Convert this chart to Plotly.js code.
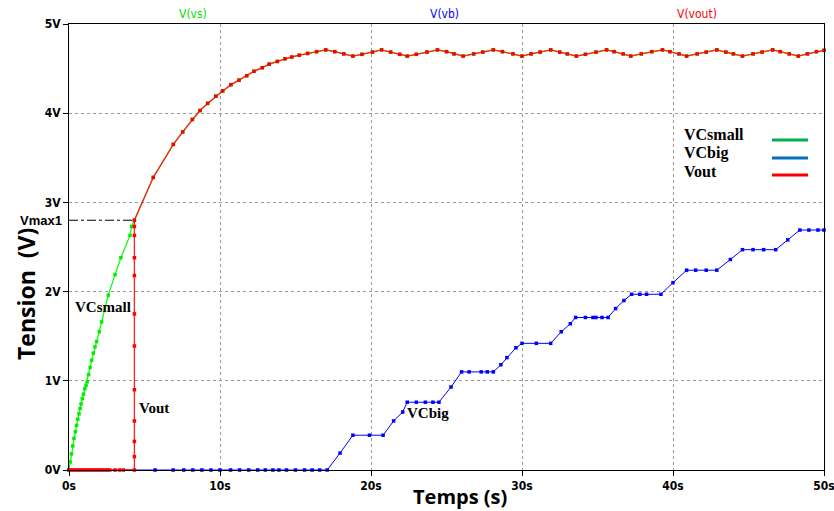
<!DOCTYPE html>
<html><head><meta charset="utf-8">
<script src="https://cdn.plot.ly/plotly-3.0.1.min.js"></script>
<style>body{margin:0;background:#fff}#chart{width:834px;height:511px}</style>
</head><body><div id="chart"></div><script>
// ---- data ----
// V(vs) : VCsmall charging before the switch
const vsT = [0, 0.08, 0.16, 0.25, 0.33, 0.42, 0.5, 0.58, 0.66, 0.73, 0.8, 0.88, 0.96, 1.05, 1.13, 1.21, 1.3, 1.4, 1.5, 1.61, 1.72, 1.83, 2.0, 2.16, 2.6, 3.05, 3.44, 4.04, 4.15, 4.33];
const vsV = [0, 0.09, 0.18, 0.27, 0.355, 0.43, 0.5, 0.57, 0.63, 0.69, 0.74, 0.8, 0.85, 0.91, 0.95, 0.99, 1.07, 1.15, 1.23, 1.31, 1.38, 1.44, 1.55, 1.66, 1.96, 2.19, 2.38, 2.63, 2.73, 2.80];
// V(vout) : zero, jump at switch, charging curve, ripple
const outZeroT = [0, 0.15, 0.3, 0.45, 0.6, 0.75, 0.9, 1.05, 1.2, 1.35, 1.5, 1.65, 1.8, 1.95, 2.1, 2.25, 2.4, 2.55, 2.7, 3.05, 3.35, 3.6, 4.33];
const outZeroV = [0, 0, 0, 0, 0, 0, 0, 0, 0, 0, 0, 0, 0, 0, 0, 0, 0, 0, 0, 0, 0, 0, 0];
const outJumpT = [4.33, 4.33, 4.33, 4.33, 4.33, 4.33, 4.33, 4.33, 4.33, 4.33, 4.33];
const outJumpV = [0.15, 0.32, 0.55, 0.9, 1.39, 1.75, 2.18, 2.38, 2.63, 2.73, 2.80];
const curveT = [5.58, 6.91, 7.53, 8.17, 8.68, 9.18, 9.72, 10.18, 10.73, 11.26, 11.77, 12.25, 12.8, 13.26, 13.8, 14.3, 14.75, 15.25, 15.8, 16.4];
const curveV = [3.28, 3.65, 3.79, 3.93, 4.03, 4.11, 4.19, 4.25, 4.32, 4.37, 4.42, 4.47, 4.51, 4.55, 4.58, 4.61, 4.63, 4.65, 4.67, 4.69];
const rippleT = [17.0, 17.6, 18.2, 18.8, 19.4, 20.1, 20.7, 21.3, 21.9, 22.4, 23.0, 23.7, 24.4, 25.0, 25.5, 26.1, 26.8, 27.4, 28.1, 28.7, 29.4, 30.0, 30.6, 31.2, 31.9, 32.5, 33.0, 33.6, 34.2, 34.9, 35.6, 36.1, 36.7, 37.2, 37.9, 38.6, 39.3, 39.8, 40.4, 40.9, 41.6, 42.2, 42.9, 43.5, 44.0, 44.6, 45.3, 45.9, 46.6, 47.1, 47.7, 48.3, 48.9, 49.5, 50.0];
const rippleV = [4.71, 4.69, 4.665, 4.64, 4.66, 4.685, 4.71, 4.685, 4.66, 4.64, 4.66, 4.685, 4.71, 4.69, 4.665, 4.64, 4.665, 4.685, 4.71, 4.69, 4.665, 4.64, 4.665, 4.685, 4.71, 4.685, 4.665, 4.64, 4.66, 4.685, 4.71, 4.69, 4.665, 4.64, 4.665, 4.69, 4.71, 4.69, 4.665, 4.64, 4.665, 4.685, 4.71, 4.685, 4.665, 4.64, 4.665, 4.685, 4.71, 4.69, 4.665, 4.64, 4.665, 4.69, 4.705];
// V(vb) : VCbig staircase
const vbT = [0, 5.7, 6.9, 7.6, 8.2, 8.8, 9.4, 10.0, 10.7, 11.3, 11.9, 12.5, 13.0, 13.5, 13.9, 14.4, 15.0, 15.6, 16.1, 16.6, 17.1, 17.95, 18.8, 19.9, 20.8, 21.5, 22.1, 22.4, 23.0, 23.6, 24.1, 24.5, 25.3, 26.0, 26.5, 27.3, 27.7, 28.1, 28.6, 29.0, 29.6, 30.0, 30.95, 31.9, 32.6, 33.2, 33.55, 34.2, 34.7, 34.9, 35.3, 35.7, 36.2, 36.75, 37.26, 37.8, 38.25, 39.2, 40.0, 40.9, 41.5, 42.2, 42.9, 43.8, 44.6, 45.3, 46.0, 46.8, 47.6, 48.4, 49.0, 49.6, 50.0];
const vbV = [0, 0, 0, 0, 0, 0, 0, 0, 0, 0, 0, 0, 0, 0, 0, 0, 0, 0, 0, 0, 0, 0.19, 0.39, 0.39, 0.39, 0.55, 0.65, 0.76, 0.76, 0.76, 0.76, 0.76, 0.93, 1.10, 1.10, 1.10, 1.10, 1.10, 1.18, 1.26, 1.37, 1.42, 1.42, 1.42, 1.55, 1.64, 1.71, 1.71, 1.71, 1.71, 1.71, 1.71, 1.81, 1.90, 1.97, 1.97, 1.97, 1.97, 2.10, 2.24, 2.24, 2.24, 2.24, 2.36, 2.47, 2.47, 2.47, 2.47, 2.58, 2.69, 2.69, 2.69, 2.69];
const vmax1 = 2.80;
const tSwitch = 4.33;
const xTicks = [0, 10, 20, 30, 40, 50];
const yTicks = [0, 1, 2, 3, 4, 5];

// ---- build traces ----
const outT = outZeroT.concat(outJumpT, curveT, rippleT);
const outV = outZeroV.concat(outJumpV, curveV, rippleV);
const greenT = vsT.concat(curveT, rippleT);
const greenV = vsV.concat(curveV, rippleV);

const mk = (c) => ({symbol: 'square', size: 3.5, color: c});
const traces = [
  {x: vbT, y: vbV, mode: 'lines+markers', line: {color: '#0000ff', width: 1}, marker: mk('#0000ff'), cliponaxis: false, hoverinfo: 'skip'},
  {x: greenT, y: greenV, mode: 'lines+markers', line: {color: '#00ff00', width: 1.2}, marker: mk('#00ee00'), cliponaxis: false, hoverinfo: 'skip'},
  {x: outT, y: outV, mode: 'lines+markers', line: {color: '#ff2020', width: 1.3}, marker: mk('#ff0000'), cliponaxis: false, hoverinfo: 'skip'}
];

const L = 69, T = 24, W = 755, H = 446;
const px = (p) => (p - L) / W;
const py = (p) => (T + H - p) / H;
const tickFont = {family: 'DejaVu Sans Condensed, Liberation Sans Narrow, sans-serif', size: 12, color: '#000', weight: 'bold'};
const topFont = (c) => ({family: 'DejaVu Sans Condensed, Liberation Sans Narrow, sans-serif', size: 12, color: c});
const serif = (s) => ({family: 'Liberation Serif, Times New Roman, serif', size: s, color: '#000', weight: 'bold'});
const A = (o) => Object.assign({xref: 'paper', yref: 'paper', showarrow: false, xanchor: 'center', yanchor: 'middle'}, o);

const ann = [
  A({text: 'Tension&nbsp;&nbsp;(V)', x: px(26), y: py(294), textangle: -90, font: {family: 'Open Sans, sans-serif', size: 23, weight: 'bold', color: '#000'}}),
  A({text: 'Temps (s)', x: px(460), y: py(496), font: {family: 'Open Sans, sans-serif', size: 20, weight: 'bold', color: '#000'}}),
  A({text: 'V(vs)', x: px(193), y: py(14), font: topFont('#00e000')}),
  A({text: 'V(vb)', x: px(444), y: py(14), font: topFont('#0000ff')}),
  A({text: 'V(vout)', x: px(697), y: py(14), font: topFont('#ff0000')}),
  A({text: 'Vmax1', yref: 'y', x: px(64), y: vmax1, xanchor: 'right', font: {family: 'Liberation Sans, Arial, sans-serif', size: 13, weight: 'bold', color: '#000'}}),
  A({text: 'VCsmall', x: px(73), y: py(307), xanchor: 'left', font: serif(15)}),
  A({text: 'Vout', x: px(137), y: py(408), xanchor: 'left', font: serif(15)}),
  A({text: 'VCbig', x: px(405), y: py(413), xanchor: 'left', font: serif(15)}),
  A({text: 'VCsmall', x: px(682), y: py(134), xanchor: 'left', font: serif(16)}),
  A({text: 'VCbig', x: px(682), y: py(153), xanchor: 'left', font: serif(16)}),
  A({text: 'Vout', x: px(682), y: py(172), xanchor: 'left', font: serif(16)})
];
const legLine = (p, c) => ({type: 'line', xref: 'paper', yref: 'paper', x0: px(772), x1: px(808), y0: py(p), y1: py(p), line: {color: c, width: 3}});
const shapes = [
  {type: 'line', xref: 'x', yref: 'y', x0: 0, x1: tSwitch, y0: vmax1, y1: vmax1, line: {color: '#000', width: 1, dash: 'dashdot'}},
  legLine(140, '#00b050'), legLine(158, '#0070c0'), legLine(175, '#ff0000')
];

const axisCommon = {showgrid: true, gridcolor: '#9a9a9a', griddash: '3px,3px', gridwidth: 1,
  zeroline: false, showline: true, linecolor: '#000', linewidth: 1, mirror: true, ticks: 'outside', ticklen: 5,
  tickcolor: '#000', tickfont: tickFont, fixedrange: true, ticklabeloverflow: 'allow'};
const layout = {
  width: 834, height: 511,
  margin: {l: L, r: 834 - L - W, t: T, b: 511 - T - H, pad: 0},
  paper_bgcolor: '#fff', plot_bgcolor: '#fff',
  showlegend: false,
  xaxis: Object.assign({range: [0, 50], tickvals: xTicks, ticktext: xTicks.map(v => v + 's')}, axisCommon),
  yaxis: Object.assign({range: [0, 5], tickvals: yTicks, ticktext: yTicks.map(v => v + 'V')}, axisCommon),
  annotations: ann,
  shapes: shapes
};
Plotly.newPlot('chart', traces, layout, {staticPlot: true});
</script></body></html>
